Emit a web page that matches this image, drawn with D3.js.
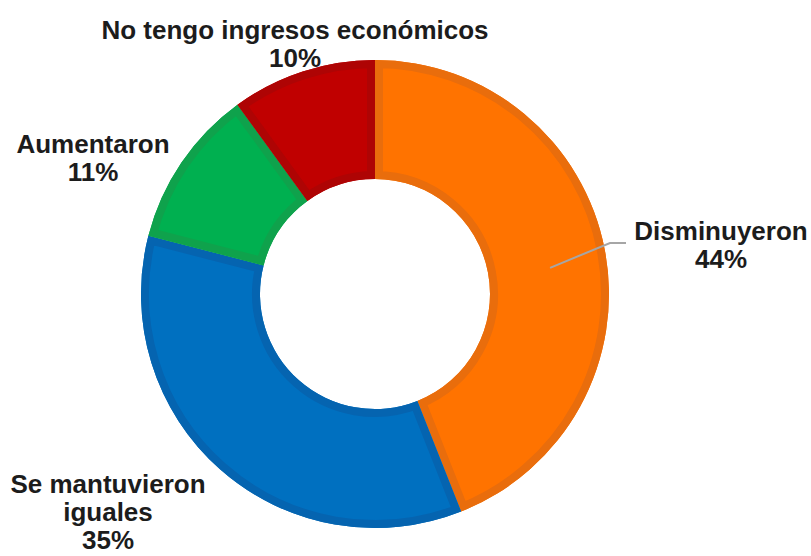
<!DOCTYPE html>
<html>
<head>
<meta charset="utf-8">
<script src="https://cdn.jsdelivr.net/npm/d3@7"></script>
<style>
  html, body { margin: 0; padding: 0; background: #ffffff; }
  svg { display: block; }
  text { font-family: "Liberation Sans", Arial, sans-serif; font-weight: bold; fill: #1c1c1c; }
</style>
</head>
<body>
<svg id="chart" width="811" height="556"></svg>
<script>
// Data
const categories = ["Disminuyeron", "Se mantuvieron iguales", "Aumentaron", "No tengo ingresos económicos"];
const values = [44, 35, 11, 10];
const labelLines = [["Disminuyeron"], ["Se mantuvieron", "iguales"], ["Aumentaron"], ["No tengo ingresos económicos"]];

// Styling
const fills = ["#FF7300", "#0070C0", "#00B050", "#C00000"];
const borders = ["#E96D0C", "#0564B0", "#0FA24C", "#AE0404"];

// Layout
const width = 811, height = 556;
const cx = 375, cy = 294;
const outerR = 234, innerR = 115;
const border = 8;
const fontSize = 26, lineGap = 28;
// label anchor (centre x, first baseline y) for each slice
const labelPos = [[721, 240], [108, 493], [93, 153], [295, 39]];

const svg = d3.select("#chart");
const g = svg.append("g").attr("transform", `translate(${cx},${cy})`);

const pie = d3.pie().sort(null).value(d => d)(values);
const arc = d3.arc().innerRadius(innerR).outerRadius(outerR);

const defs = svg.append("defs");
pie.forEach((d, i) => {
  defs.append("clipPath").attr("id", "clip" + i)
    .append("path").attr("d", arc(d));
});

const slices = g.selectAll("g.slice").data(pie).join("g").attr("class", "slice");
slices.append("path")
  .attr("d", arc)
  .attr("fill", (d, i) => fills[i]);
// darker inset rim along each slice edge
slices.append("path")
  .attr("d", arc)
  .attr("fill", "none")
  .attr("stroke", (d, i) => borders[i])
  .attr("stroke-width", border * 2)
  .attr("stroke-linejoin", "round")
  .attr("clip-path", (d, i) => `url(#clip${i})`);

// leader line for the first slice
const a0 = (pie[0].startAngle + pie[0].endAngle) / 2;
const lp = d3.pointRadial(a0 + 0.04, 177);
svg.append("polyline")
  .attr("points", [[cx + lp[0], cy + lp[1]], [610, 243], [626, 243]].map(p => p.join(",")).join(" "))
  .attr("fill", "none")
  .attr("stroke", "#A6A6A6")
  .attr("stroke-width", 2);

// labels
pie.forEach((d, i) => {
  const [x, y] = labelPos[i];
  const lines = labelLines[i].concat([values[i] + "%"]);
  const t = svg.append("text")
    .attr("text-anchor", "middle")
    .attr("font-size", fontSize);
  lines.forEach((s, k) => {
    t.append("tspan").attr("x", x).attr("y", y + k * lineGap).text(s);
  });
});
</script>
</body>
</html>
